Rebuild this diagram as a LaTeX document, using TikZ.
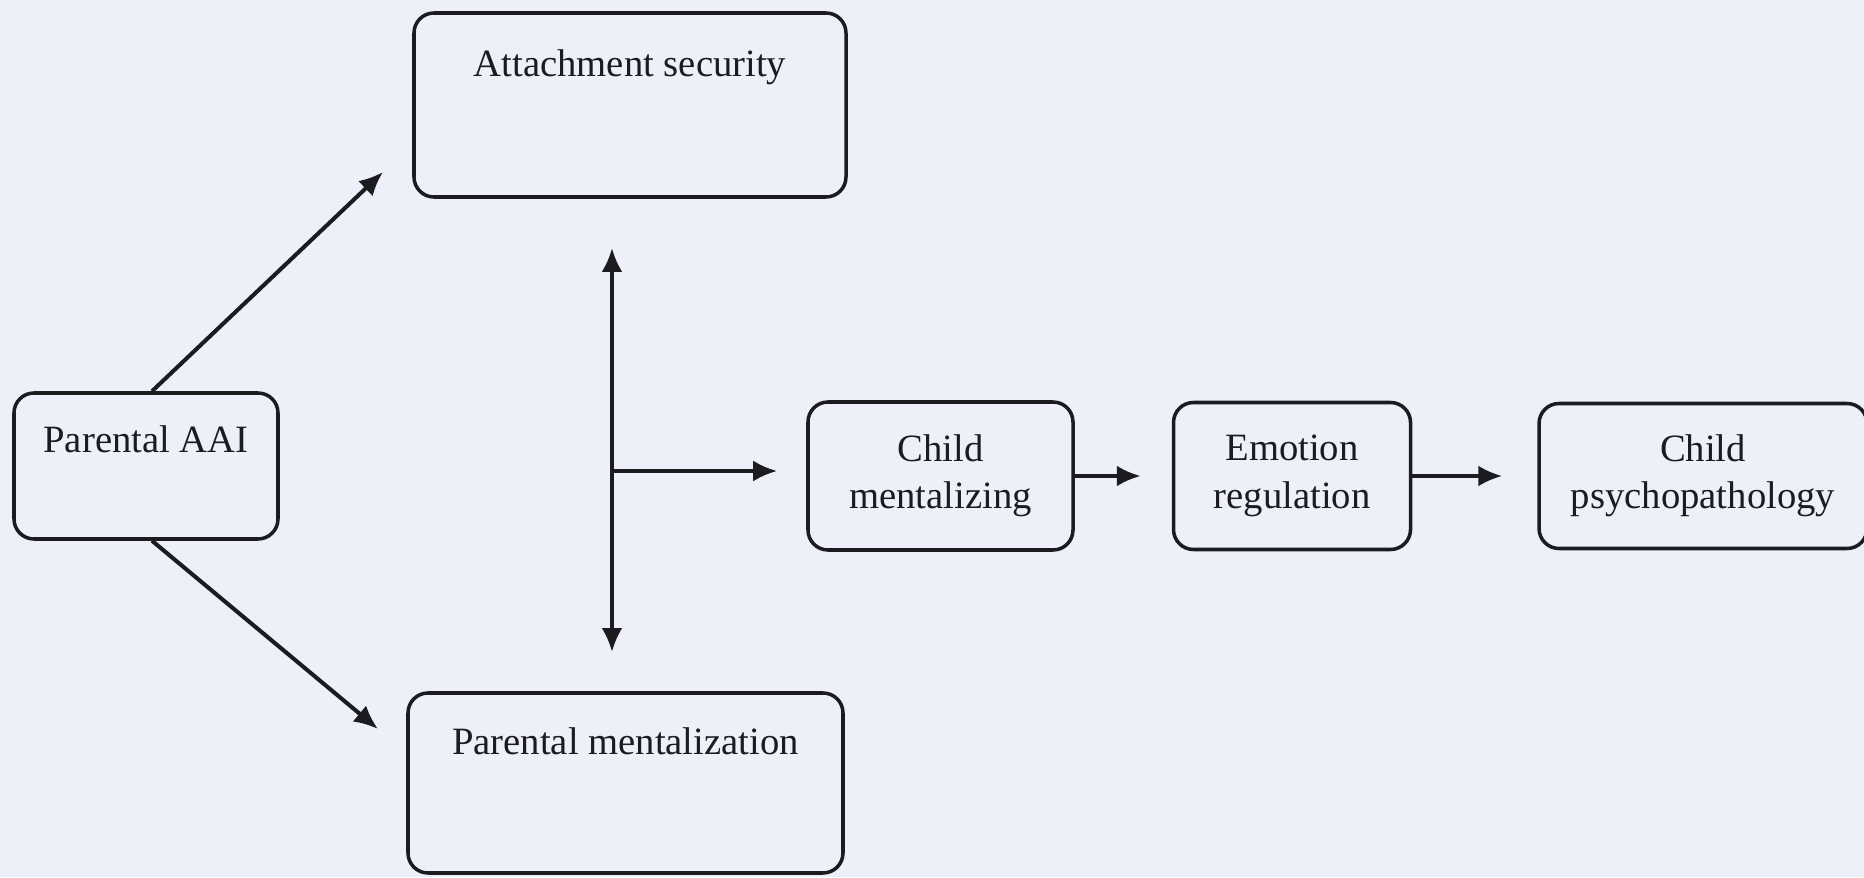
\documentclass[tikz,border=0pt]{standalone}
\usepackage{fontspec}
\setmainfont{Liberation Serif}
\usepackage{tikz}
\usetikzlibrary{positioning,arrows.meta,calc}
\definecolor{paperc}{RGB}{238,240,249}
\definecolor{inkc}{RGB}{28,28,32}
\tikzset{
  box/.style={rectangle,rounded corners=0.4cm,draw=inkc,line width=2pt,inner sep=0pt,font=\fontsize{22}{27}\selectfont,text=inkc},
  topbox/.style={box,anchor=base},
  pair/.style={box,align=center},
  flow/.style={-{Latex[length=0.48cm,width=0.42cm]},line width=2.3pt,draw=inkc},
  twoway/.style={{Latex[length=0.48cm,width=0.42cm]}-{Latex[length=0.48cm,width=0.42cm]},line width=2.2pt,draw=inkc},
}
\begin{document}
\begin{tikzpicture}
  \fill[paperc] (0,0) rectangle (37.28,17.54);
  \useasboundingbox (0,0) rectangle (37.28,17.54);
  \node[topbox,minimum width=5.28cm,text height=1.2cm,text depth=1.72cm] (aai) at (2.92,8.48) {Parental AAI};
  \node[topbox,minimum width=8.64cm,text height=1.28cm,text depth=2.4cm] (att) at (12.6,16.0) {Attachment security};
  \node[topbox,minimum width=8.7cm,text height=1.22cm,text depth=2.38cm] (pm) at (12.51,2.46) {Parental mentalization};
  \node[pair,minimum width=5.3cm,minimum height=2.96cm] (cm) at (18.81,8.02) {Child\\mentalizing};
  \node[pair,minimum width=4.74cm,minimum height=2.94cm,right=1.94cm of cm] (er) {Emotion\\regulation};
  \node[pair,minimum width=6.56cm,minimum height=2.9cm,right=2.5cm of er] (ps) {Child\\psychopathology};
  \coordinate (upTip) at (7.66,14.1);
  \coordinate (downTip) at (7.56,2.96);
  \coordinate (vTop) at (12.24,12.58);
  \coordinate (vBot) at (12.24,4.5);
  \coordinate (vMid) at (12.24,8.12);
  \draw[flow] ([xshift=0.12cm]aai.north) -- (upTip);
  \draw[flow] ([xshift=0.12cm]aai.south) -- (downTip);
  \draw[twoway] (vTop) -- (vBot);
  \draw[flow,shorten >=0.58cm] (vMid) -- (vMid -| cm.west);
  \draw[flow,shorten >=0.62cm] (cm.east) -- (cm.east -| er.west);
  \draw[flow,shorten >=0.7cm] (er.east) -- (er.east -| ps.west);
\end{tikzpicture}
\end{document}
